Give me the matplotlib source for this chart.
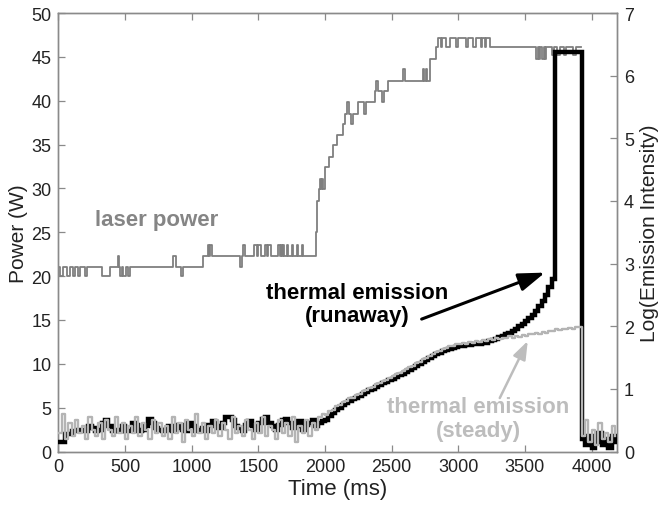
import numpy as np
import matplotlib
matplotlib.use("Agg")
import matplotlib.pyplot as plt

plt.rcParams['font.family'] = ['Liberation Sans', 'DejaVu Sans']

# ---------------- data ----------------
# laser power (W), step trace: change times (ms) and new levels
laser_t = [0, 12, 38, 63, 88, 113, 125, 150, 163, 200, 213, 325, 388, 445, 457, 462, 475, 487, 505, 520, 537,
           862, 880, 920, 932, 1087, 1120, 1128, 1138, 1155, 1362, 1375, 1387, 1400, 1467, 1487, 1500, 1520,
           1550, 1562, 1575, 1595, 1650, 1660, 1670, 1680, 1688, 1695, 1712, 1725, 1750, 1762, 1787, 1800,
           1825, 1837,
           1932, 1942, 1955, 1962, 1970, 1977, 1985, 1999, 2032, 2057, 2087, 2137, 2149, 2168, 2180, 2199,
           2212, 2249, 2290, 2305, 2374, 2384, 2396, 2430, 2442, 2474, 2585, 2597, 2735, 2745, 2757, 2767,
           2786, 2836, 2848, 2870, 2880, 2910, 2935, 2985, 3000, 3060, 3072, 3110, 3130, 3170, 3180, 3200,
           3210, 3236, 3586, 3595, 3605, 3615, 3625, 3640, 3650, 3661, 3700, 3715, 3740, 3760, 3790, 3810,
           3860, 3880, 3923]
laser_p = [21, 20, 21, 20, 21, 20, 21, 20, 21, 20, 21, 20, 21, 22.3, 21, 20, 21, 20, 21, 20, 21,
           22.3, 21, 20, 21, 22.3, 23.6, 22.3, 23.6, 22.3, 21, 22.3, 23.6, 22.3, 23.6, 22.3, 23.6, 22.3,
           23.6, 22.3, 23.6, 22.3, 23.6, 22.3, 23.6, 22.3, 23.6, 22.3, 23.6, 22.3, 23.6, 22.3, 23.6, 22.3,
           23.6, 22.3,
           25.0, 28.6, 29.9, 31.1, 29.9, 31.1, 29.9, 32.4, 33.6, 34.9, 36.1, 37.3, 38.5, 39.8, 38.5, 37.3,
           38.5, 39.8, 38.5, 39.8, 41.1, 42.3, 41.1, 39.8, 41.1, 42.3, 43.6, 42.3, 43.6, 42.3, 43.6, 42.3,
           44.8, 46.1, 47.2, 46.1, 47.2, 46.1, 47.2, 46.1, 47.2, 46.1, 47.2, 46.1, 47.2, 46.1, 47.2, 46.1,
           47.2, 46.1, 44.8, 46.1, 44.8, 46.1, 44.8, 46.1, 44.8, 46.1, 45.2, 46.1, 45.2, 46.1, 45.2, 46.1,
           45.2, 46.1, 46.1]

# emission traces sampled every 25 ms (log intensity)
sample_step_ms = 25
runaway = [0.15, 0.15, 0.28, 0.28, 0.33, 0.33, 0.35, 0.33, 0.33, 0.40, 0.38, 0.33, 0.35, 0.45, 0.50, 0.40,
           0.33, 0.35, 0.33, 0.40, 0.33, 0.33, 0.45, 0.42, 0.33, 0.35, 0.40, 0.52, 0.45, 0.38, 0.35, 0.33,
           0.35, 0.40, 0.33, 0.38, 0.42, 0.35, 0.33, 0.45, 0.40, 0.33, 0.35, 0.38, 0.33, 0.42, 0.48, 0.40,
           0.38, 0.45, 0.55, 0.55, 0.50, 0.40, 0.38, 0.33, 0.42, 0.48, 0.40, 0.35, 0.45, 0.52, 0.55, 0.45,
           0.40, 0.35, 0.42, 0.50, 0.52, 0.45, 0.38, 0.40, 0.48, 0.35, 0.42, 0.45, 0.50, 0.40, 0.45, 0.48,
           0.50, 0.56, 0.62, 0.66, 0.70, 0.74, 0.78, 0.80, 0.84, 0.86, 0.89, 0.92, 0.95, 0.98, 1.00, 1.03,
           1.06, 1.09, 1.11, 1.14, 1.16, 1.19, 1.22, 1.24, 1.27, 1.30, 1.33, 1.37, 1.40, 1.43, 1.46, 1.49,
           1.52, 1.55, 1.57, 1.60, 1.62, 1.64, 1.65, 1.67, 1.68, 1.69, 1.70, 1.70, 1.71, 1.72, 1.72, 1.73,
           1.74, 1.76, 1.78, 1.80, 1.83, 1.85, 1.87, 1.90, 1.93, 1.96, 2.00, 2.04, 2.08, 2.13, 2.18, 2.25,
           2.32, 2.40, 2.50, 2.62, 2.76,
           6.38, 6.38, 6.38, 6.38, 6.38, 6.38, 6.38, 6.38,
           0.20, 0.10, 0.25, 0.05, 0.15, 0.30, 0.10, 0.20, 0.05, 0.25, 0.15]
steady = [0.30, 0.60, 0.20, 0.45, 0.25, 0.50, 0.30, 0.40, 0.20, 0.55, 0.35, 0.25, 0.45, 0.20, 0.50, 0.35,
          0.25, 0.55, 0.30, 0.45, 0.20, 0.40, 0.30, 0.55, 0.25, 0.45, 0.35, 0.20, 0.50, 0.30, 0.45, 0.25,
          0.40, 0.20, 0.55, 0.30, 0.45, 0.15, 0.50, 0.35, 0.25, 0.60, 0.30, 0.45, 0.20, 0.40, 0.30, 0.50,
          0.25, 0.45, 0.35, 0.20, 0.55, 0.30, 0.40, 0.25, 0.50, 0.35, 0.20, 0.45, 0.30, 0.55, 0.25, 0.40,
          0.35, 0.20, 0.50, 0.30, 0.45, 0.25, 0.55, 0.15, 0.40, 0.30, 0.50, 0.25, 0.45, 0.35, 0.55, 0.60,
          0.58, 0.64, 0.66, 0.72, 0.74, 0.79, 0.80, 0.86, 0.86, 0.91, 0.92, 0.96, 0.98, 1.02, 1.03, 1.07,
          1.09, 1.13, 1.14, 1.18, 1.20, 1.23, 1.25, 1.29, 1.31, 1.35, 1.37, 1.41, 1.43, 1.47, 1.49, 1.53,
          1.55, 1.59, 1.60, 1.64, 1.65, 1.68, 1.69, 1.72, 1.71, 1.74, 1.72, 1.75, 1.74, 1.77, 1.75, 1.78,
          1.76, 1.79, 1.78, 1.81, 1.80, 1.82, 1.81, 1.84, 1.82, 1.85, 1.83, 1.86, 1.85, 1.88, 1.87, 1.90,
          1.88, 1.91, 1.90, 1.93, 1.93, 1.95, 1.94, 1.96, 1.95, 1.97, 1.96, 1.98, 1.98,
          0.25, 0.50, 0.15, 0.35, 0.10, 0.45, 0.20, 0.30, 0.15, 0.40, 0.25]

emission_t = np.arange(len(runaway)) * sample_step_ms

x_ticks = [0, 500, 1000, 1500, 2000, 2500, 3000, 3500, 4000]
power_ticks = [0, 5, 10, 15, 20, 25, 30, 35, 40, 45, 50]
log_ticks = [0, 1, 2, 3, 4, 5, 6, 7]

# ---------------- plot ----------------
fig = plt.figure(figsize=(6.6, 5.1), dpi=100)
ax = fig.add_axes([0.0883, 0.1127, 0.8465, 0.8598])
ax2 = ax.twinx()

spine_c = '#8a8a8a'
text_c = '#222222'

ax.plot(laser_t, laser_p, drawstyle='steps-post', color='#7f7f7f', lw=1.3, zorder=2)
ax2.plot(emission_t, runaway, drawstyle='steps-post', color='black', lw=3.2,
         solid_joinstyle='miter', zorder=3)
ax2.plot(emission_t, steady, drawstyle='steps-post', color='#b4b4b4', lw=1.7, zorder=4)

ax.set_xlim(0, 4190)
ax.set_ylim(0, 50)
ax2.set_ylim(0, 7)
ax.set_xticks(x_ticks)
ax.set_yticks(power_ticks)
ax2.set_yticks(log_ticks)

for a in (ax, ax2):
    for s in a.spines.values():
        s.set_color(spine_c)
        s.set_linewidth(1.0)
    a.tick_params(direction='in', length=5, width=0.9, color=spine_c,
                  labelsize=13, labelcolor=text_c, pad=5)
ax.tick_params(top=True, right=False)
ax2.tick_params(right=True, left=False)

ax.set_xlabel('Time (ms)', fontsize=16, color=text_c, labelpad=2)
ax.set_ylabel('Power (W)', fontsize=15, color=text_c, labelpad=2)
ax2.set_ylabel('Log(Emission Intensity)', fontsize=15, color=text_c, labelpad=4)

ax2.set_zorder(ax.get_zorder() + 1)
ax2.patch.set_visible(False)

ax.text(276, 26.5, 'laser power', fontsize=16, fontweight='bold', color='#858585',
        ha='left', va='center', zorder=5)
ax.text(2240, 16.8, 'thermal emission\n(runaway)', fontsize=16, fontweight='bold', color='black',
        ha='center', va='center', linespacing=1.15, zorder=5)
ax.text(3150, 3.75, 'thermal emission\n(steady)', fontsize=16, fontweight='bold', color='#bdbdbd',
        ha='center', va='center', linespacing=1.15, zorder=5)

ax.annotate('', xy=(3650, 20.4), xytext=(2725, 15.1),
            arrowprops=dict(arrowstyle='-|>,head_length=1.6,head_width=0.55', color='black', lw=2.2,
                            shrinkA=0, shrinkB=0), zorder=6)
ax.annotate('', xy=(3521, 12.6), xytext=(3311, 6.1),
            arrowprops=dict(arrowstyle='-|>,head_length=1.1,head_width=0.4', color='#bdbdbd', lw=1.8,
                            shrinkA=0, shrinkB=0), zorder=6)

fig.savefig('out.png', dpi=100)
